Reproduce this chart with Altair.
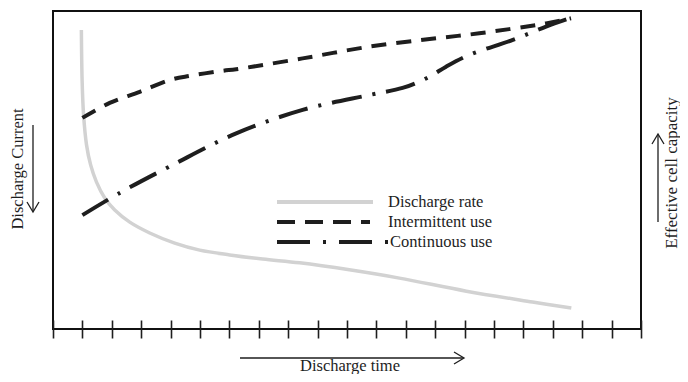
import altair as alt
import pandas as pd

# ---- data (x: discharge time in tick units 0-20, y: relative level 0-100) ----
rate_t = [0.965, 0.99, 1.04, 1.14, 1.28, 1.48, 1.76, 2.10, 2.61, 3.29, 4.14, 4.99, 6.01, 7.13, 8.39, 10.08, 11.78, 14.06, 16.31, 17.63]
rate_v = [94.0, 78.3, 67.3, 57.9, 51.6, 46.2, 41.2, 37.4, 33.6, 30.2, 27.0, 24.8, 23.3, 22.0, 20.8, 18.6, 16.0, 11.9, 8.5, 6.6]

inter_t = [1.0, 1.93, 2.95, 3.97, 4.65, 5.77, 6.23, 8.49, 10.77, 13.03, 14.5, 16.77, 17.62]
inter_v = [66.4, 71.1, 74.6, 78.3, 79.6, 81.2, 81.7, 85.1, 88.8, 91.4, 93.0, 96.1, 97.7]

cont_t = [1.0, 2.27, 4.07, 6.23, 8.49, 10.77, 11.89, 12.46, 12.91, 13.37, 14.16, 15.64, 16.77, 17.56]
cont_v = [35.8, 42.8, 51.6, 61.5, 68.9, 73.6, 75.8, 77.8, 79.9, 82.5, 86.2, 90.9, 95.1, 97.7]

tick_values = list(range(0, 21))
series_names = ["Discharge rate", "Intermittent use", "Continuous use"]
y_title = "Discharge Current"
y2_title = "Effective cell capacity"
x_title = "Discharge time"

W, H = 588, 318
FONT = "Liberation Serif, Times New Roman, Times, serif"
INK = "#1e1e1e"

xs = alt.Scale(domain=[0, 20], nice=False, zero=False)
ys = alt.Scale(domain=[0, 100], nice=False, zero=False)
x_axis = alt.Axis(values=tick_values, labels=False, domain=False, grid=False, ticks=True,
                  tickSize=18, tickWidth=1.6, tickColor=INK, offset=-9, title=None)

one = pd.DataFrame({"k": [0]})


def curve(t, v, color, width, dash=None):
    df = pd.DataFrame({"t": t, "v": v})
    kw = dict(color=color, strokeWidth=width, interpolate="catmull-rom")
    if dash:
        kw["strokeDash"] = dash
    return alt.Chart(df).mark_line(**kw).encode(
        x=alt.X("t:Q", scale=xs, axis=x_axis),
        y=alt.Y("v:Q", scale=ys, axis=None),
        order="t:Q",
    )


def rule(x1, x2, y1, y2, color=INK, width=1.3, dash=None):
    kw = dict(color=color, strokeWidth=width, clip=False)
    if dash:
        kw["strokeDash"] = dash
    return alt.Chart(one).mark_rule(**kw).encode(
        x=alt.value(x1), x2=alt.value(x2), y=alt.value(y1), y2=alt.value(y2))


def head(x, y, angle):
    return alt.Chart(one).mark_point(
        shape="M-1,-0.6L0,0L-1,0.6", filled=False, size=400, stroke=INK,
        strokeWidth=1.3, opacity=1, angle=angle, clip=False
    ).encode(x=alt.value(x), y=alt.value(y))


def label(text, x, y, size, angle=0, align="left", baseline="middle"):
    return alt.Chart(one).mark_text(
        font=FONT, fontSize=size, color=INK, align=align, baseline=baseline, angle=angle
    ).encode(x=alt.value(x), y=alt.value(y), text=alt.value(text))


layers = [
    curve(rate_t, rate_v, "#d2d2d2", 3.5),
    curve(inter_t, inter_v, INK, 4, [15, 10]),
    curve(cont_t, cont_v, INK, 4, [30, 11, 3, 11]),
    # legend
    rule(224, 320, 191, 191, color="#d2d2d2", width=4),
    rule(224, 317, 211, 211, width=4, dash=[18, 10]),
    rule(224, 335, 231, 231, width=4, dash=[33, 13, 3, 13]),
    label(series_names[0], 335, 191, 16.5),
    label(series_names[1], 335, 211, 16.5),
    label(series_names[2], 337, 231, 16.5),
    # left annotation
    label(y_title, -30, 158, 16.5, angle=270, align="center", baseline="alphabetic"),
    rule(-20, -20, 114, 200),
    head(-20, 201, 90),
    # right annotation
    label(y2_title, 623.5, 162, 17, angle=270, align="center", baseline="alphabetic"),
    rule(605, 605, 124, 211),
    head(605, 123, 270),
    # bottom annotation
    label(x_title, 297, 359.5, 16.5, align="center", baseline="alphabetic"),
    rule(187, 410, 347, 347),
    head(411, 347, 0),
]

chart = alt.layer(*layers).properties(
    width=W, height=H,
    autosize=alt.AutoSizeParams(type="none"),
    padding={"left": 45, "top": 3, "right": 39, "bottom": 45},
).configure_view(stroke="#111111", strokeWidth=2)

chart.save("out.html", embed_options={"renderer": "svg", "actions": False})
